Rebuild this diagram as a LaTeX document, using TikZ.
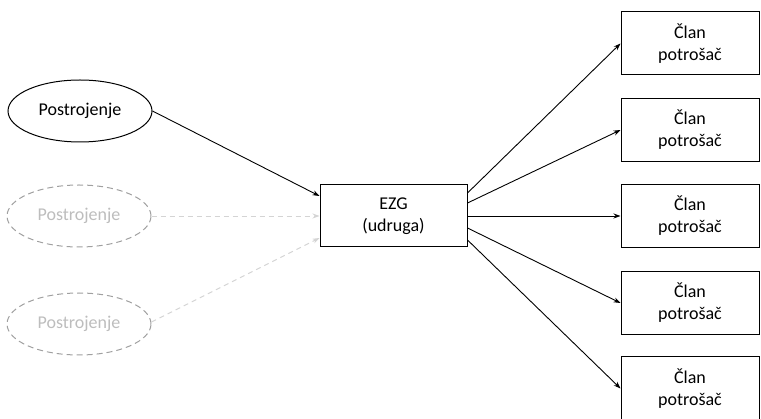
\documentclass[tikz,border=0pt]{standalone}
\usepackage{fontspec}
\setmainfont{Carlito}
\usetikzlibrary{shapes.geometric,arrows.meta}
\definecolor{ghostline}{HTML}{A0A0A0}
\definecolor{ghosttext}{HTML}{BDBDBD}
\definecolor{ghostarrow}{HTML}{D4D4D4}
\tikzset{
  txt/.style={font=\fontsize{18}{22}\selectfont, align=center},
  plant/.style={txt, ellipse, draw=black, line width=1pt, minimum width=144pt, minimum height=62pt, inner sep=0pt},
  ghostplant/.style={plant, draw=ghostline, dash pattern=on 6pt off 4pt, text=ghosttext},
  hub/.style={txt, rectangle, draw=black, line width=1pt, minimum width=147pt, minimum height=62pt, inner sep=0pt},
  member/.style={txt, rectangle, draw=black, line width=1pt, minimum width=138pt, minimum height=63pt, inner sep=0pt},
  link/.style={line width=0.9pt, -{Stealth[length=7pt,width=5pt]}},
  ghostlink/.style={link, draw=ghostarrow, dash pattern=on 5pt off 4pt}
}
\begin{document}
\begin{tikzpicture}[x=1pt,y=-1pt]
\useasboundingbox (0,0) rectangle (761,419);
\node[plant] (p1) at (80,111) {Postrojenje};
\node[ghostplant] (p2) at (79,216) {Postrojenje};
\node[ghostplant] (p3) at (79,324) {Postrojenje};
\node[hub] (ezg) at (393.5,216) {EZG\\(udruga)};
\node[member] (c1) at (690,43.5) {Član\\potrošač};
\node[member] (c2) at (690,130) {Član\\potrošač};
\node[member] (c3) at (690,216) {Član\\potrošač};
\node[member] (c4) at (690,303) {Član\\potrošač};
\node[member] (c5) at (690,388.5) {Član\\potrošač};
\draw[link] (p1.east) -- ([yshift=20pt]ezg.west);
\draw[ghostlink] (p2.east) -- (ezg.west);
\draw[ghostlink] ([yshift=2pt]p3.east) -- ([yshift=-22pt]ezg.west);
\draw[link] ([yshift=23pt]ezg.east) -- (c1.west);
\draw[link] ([yshift=13pt]ezg.east) -- (c2.west);
\draw[link] (ezg.east) -- (c3.west);
\draw[link] ([yshift=-12pt]ezg.east) -- (c4.west);
\draw[link] ([yshift=-24pt]ezg.east) -- (c5.west);
\end{tikzpicture}
\end{document}
